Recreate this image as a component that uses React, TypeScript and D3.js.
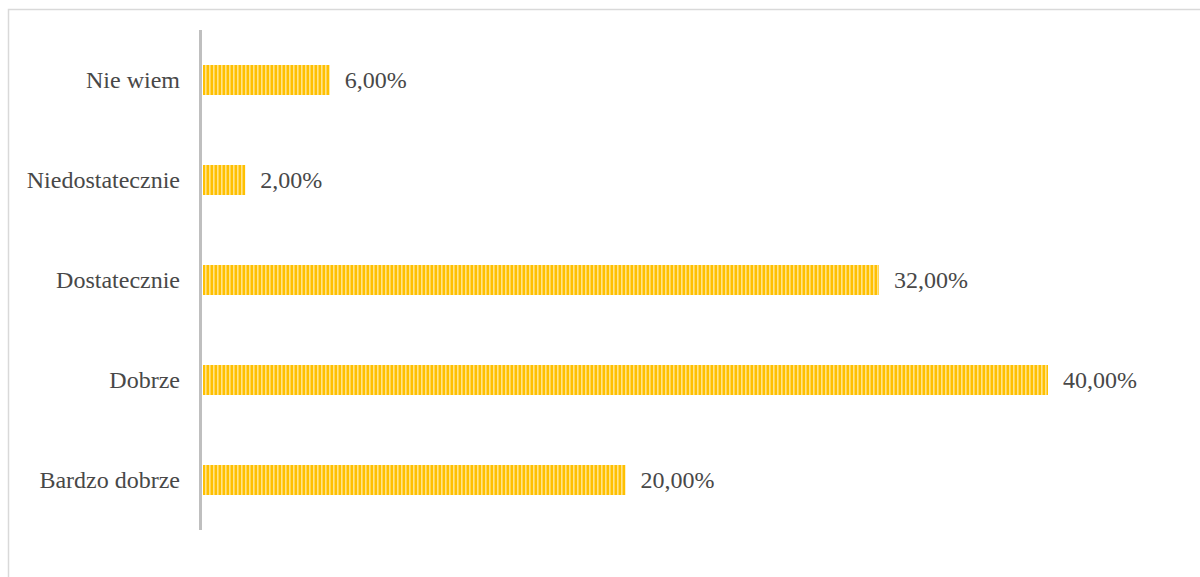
import React from "react";
import * as d3 from "d3";

const categories = ["Nie wiem", "Niedostatecznie", "Dostatecznie", "Dobrze", "Bardzo dobrze"];
const values = [6, 2, 32, 40, 20];

const W = 1200;
const H = 577;

export default function App() {
  const x = d3.scaleLinear().domain([0, 40]).range([203, 1048]);
  const y = d3.scaleBand().domain(categories).range([30, 530]).paddingInner(0.7).paddingOuter(0.35);
  const fmt = (v: number) => v.toFixed(2).replace(".", ",") + "%";
  return (
    <svg width={W} height={H} style={{ position: "absolute", left: 0, top: 0 }} fontFamily="'Liberation Serif', 'Times New Roman', serif">
      <defs>
        <pattern id="stripes" patternUnits="userSpaceOnUse" width={4} height={10}>
          <rect x={0} y={0} width={4} height={10} fill="#FFC000" />
          <rect x={1} y={0} width={1.6} height={10} fill="#FFE38A" />
        </pattern>
      </defs>
      <rect x={8.5} y={9.5} width={1250} height={700} fill="#fff" stroke="#d9d9d9" strokeWidth={1.5} />
      {categories.map((c, i) => {
        const by = y(c)!;
        const bh = y.bandwidth();
        return (
          <g key={c}>
            <rect x={x(0)} y={by} width={x(values[i]) - x(0)} height={bh} fill="url(#stripes)" />
            <text x={180} y={by + bh / 2} dy="0.33em" textAnchor="end" fontSize={24} fill="#484848">{c}</text>
            <text x={x(values[i]) + 15} y={by + bh / 2} dy="0.33em" fontSize={24} fill="#484848">{fmt(values[i])}</text>
          </g>
        );
      })}
      <line x1={200.5} x2={200.5} y1={30} y2={530} stroke="#bfbfbf" strokeWidth={3} />
    </svg>
  );
}
